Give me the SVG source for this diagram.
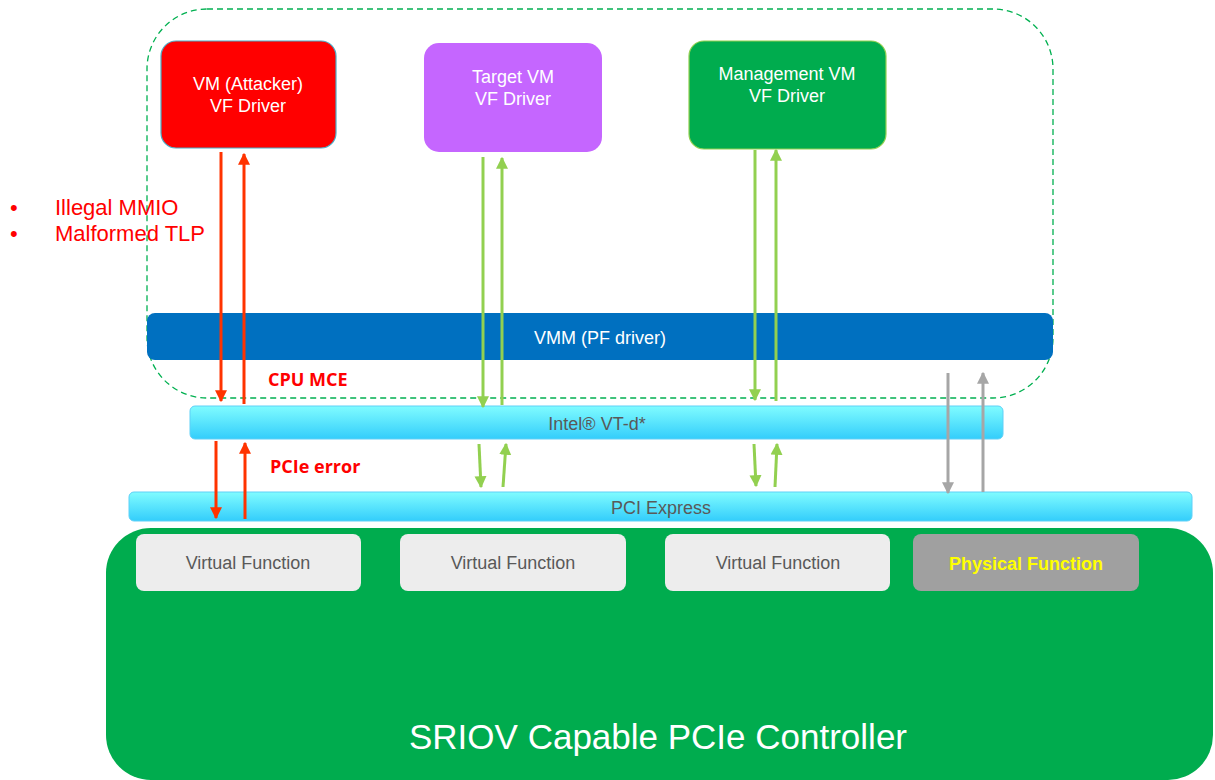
<svg xmlns="http://www.w3.org/2000/svg" width="1215" height="780" viewBox="0 0 1215 780">
<style>
.t{font-family:"Liberation Sans",Arial,sans-serif;text-anchor:middle}
.w{fill:#ffffff;font-size:18px}
.g{fill:#595959;font-size:18px}
.bar{fill:url(#cy);stroke:#5fd0f7;stroke-width:1}
.vf{fill:#ededed}
.red{stroke:#ff3300;stroke-width:3;fill:none}
.grn{stroke:#92d050;stroke-width:3;fill:none}
.gry{stroke:#a6a6a6;stroke-width:3;fill:none}
.lab{font-family:"Open Sans","Liberation Sans",sans-serif;font-weight:bold;font-size:18px;fill:#ff0000}
.bul{font-family:"Liberation Sans",Arial,sans-serif;font-size:22px;fill:#ff0000}
</style>
<defs>
<linearGradient id="cy" x1="0" y1="0" x2="0" y2="1">
<stop offset="0" stop-color="#80fcff"/>
<stop offset="1" stop-color="#33cdfb"/>
</linearGradient>
<marker id="ar" viewBox="0 0 10 10" refX="9" refY="5" markerWidth="4" markerHeight="4.2" orient="auto" markerUnits="strokeWidth"><path d="M0,0 L10,5 L0,10 z" fill="#ff3300"/></marker>
<marker id="ag" viewBox="0 0 10 10" refX="9" refY="5" markerWidth="4" markerHeight="4.2" orient="auto" markerUnits="strokeWidth"><path d="M0,0 L10,5 L0,10 z" fill="#92d050"/></marker>
<marker id="ay" viewBox="0 0 10 10" refX="9" refY="5" markerWidth="4" markerHeight="4.2" orient="auto" markerUnits="strokeWidth"><path d="M0,0 L10,5 L0,10 z" fill="#a6a6a6"/></marker>
</defs>
<rect width="1215" height="780" fill="#ffffff"/>

<g id="controller">
<rect x="106" y="528" width="1107" height="252" rx="45" fill="#00ac4e"/>
<text class="t" x="658" y="749" fill="#ffffff" font-size="35">SRIOV Capable PCIe Controller</text>
</g>
<g id="vf1"><rect class="vf" x="136" y="534" width="225" height="57" rx="8"/><text class="t g" x="248" y="569">Virtual Function</text></g>
<g id="vf2"><rect class="vf" x="400" y="534" width="226" height="57" rx="8"/><text class="t g" x="513" y="569">Virtual Function</text></g>
<g id="vf3"><rect class="vf" x="665" y="534" width="225" height="57" rx="8"/><text class="t g" x="778" y="569">Virtual Function</text></g>
<g id="pf"><rect x="913" y="534" width="226" height="57" rx="8" fill="#a0a0a0"/><text class="t" x="1026" y="570" fill="#ffff00" font-size="18" font-weight="bold">Physical Function</text></g>

<g id="host">
<rect x="147" y="9" width="906" height="389" rx="60" fill="none" stroke="#00b050" stroke-width="1.3" stroke-dasharray="6,4"/>
</g>

<g id="vmm"><rect x="147" y="313" width="906" height="47" rx="8" fill="#0070c0"/><text class="t w" x="600" y="344">VMM (PF driver)</text></g>
<g id="vtd"><rect class="bar" x="190" y="406" width="813" height="33" rx="5"/><text class="t g" x="597" y="430" font-size="19">Intel® VT-d*</text></g>
<g id="pcie"><rect class="bar" x="129" y="492" width="1063" height="29" rx="5"/><text class="t g" x="661" y="514" font-size="19">PCI Express</text></g>

<g id="attacker"><rect x="161" y="41" width="175" height="107" rx="15" fill="#ff0000" stroke="#4bacc6" stroke-width="1.2"/><text class="t w" x="248" y="90">VM (Attacker)</text><text class="t w" x="248" y="112">VF Driver</text></g>
<g id="target"><rect x="424" y="43" width="178" height="109" rx="15" fill="#c566ff"/><text class="t w" x="513" y="83">Target VM</text><text class="t w" x="513" y="105">VF Driver</text></g>
<g id="mgmt"><rect x="689" y="41" width="197" height="108" rx="15" fill="#00ac4e" stroke="#92d050" stroke-width="1.2"/><text class="t w" x="787" y="80">Management VM</text><text class="t w" x="787" y="102">VF Driver</text></g>

<g id="connectors">
<line class="red" x1="221" y1="152" x2="221" y2="401" marker-end="url(#ar)"/>
<line class="red" x1="244" y1="404" x2="244" y2="154" marker-end="url(#ar)"/>
<line class="red" x1="216" y1="441" x2="216" y2="518" marker-end="url(#ar)"/>
<line class="red" x1="245" y1="519" x2="245" y2="443" marker-end="url(#ar)"/>
<line class="grn" x1="483" y1="157" x2="483" y2="407" marker-end="url(#ag)"/>
<line class="grn" x1="502" y1="405" x2="502" y2="158" marker-end="url(#ag)"/>
<line class="grn" x1="479" y1="444" x2="481" y2="487" marker-end="url(#ag)"/>
<line class="grn" x1="503" y1="487" x2="506" y2="444" marker-end="url(#ag)"/>
<line class="grn" x1="755" y1="150" x2="755" y2="400" marker-end="url(#ag)"/>
<line class="grn" x1="776" y1="401" x2="776" y2="150" marker-end="url(#ag)"/>
<line class="grn" x1="754" y1="444" x2="756" y2="486" marker-end="url(#ag)"/>
<line class="grn" x1="775" y1="487" x2="777" y2="444" marker-end="url(#ag)"/>
<line class="gry" x1="948" y1="373" x2="948" y2="493" marker-end="url(#ay)"/>
<line class="gry" x1="983" y1="492" x2="983" y2="373" marker-end="url(#ay)"/>
</g>

<g id="labels">
<text class="lab" x="268" y="386">CPU MCE</text>
<text class="lab" x="270" y="473">PCIe error</text>
<text class="bul" x="10" y="215">•</text>
<text class="bul" x="55" y="215">Illegal MMIO</text>
<text class="bul" x="10" y="241">•</text>
<text class="bul" x="55" y="241">Malformed TLP</text>
</g>
</svg>
